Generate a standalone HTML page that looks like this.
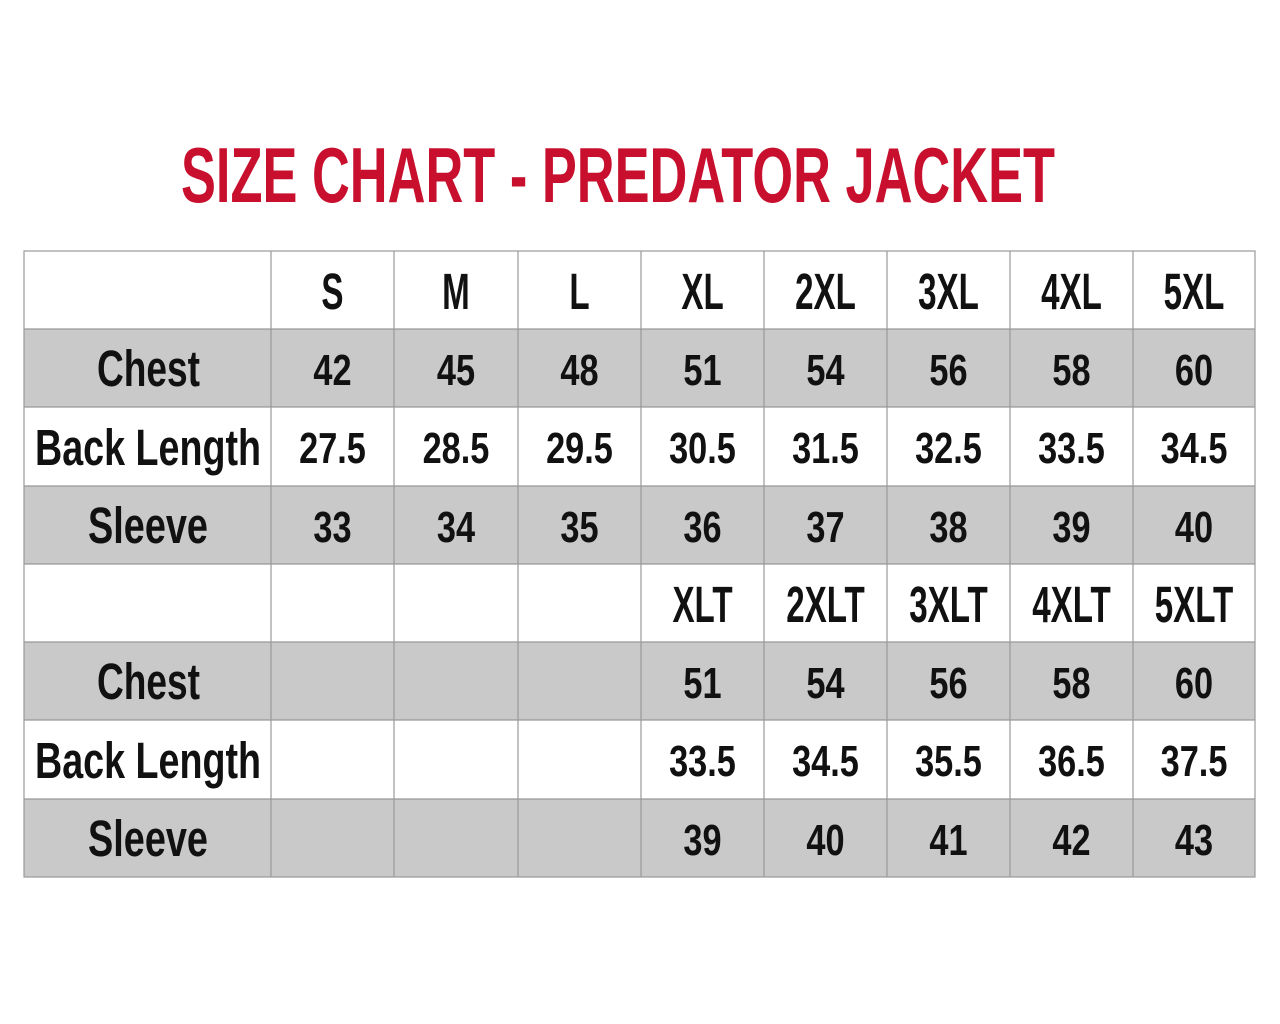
<!DOCTYPE html>
<html><head><style>body{margin:0;background:#fff}svg{display:block}</style></head><body>
<svg width="1280" height="1024" xmlns="http://www.w3.org/2000/svg" font-family="'Liberation Sans',sans-serif" font-weight="bold">
<rect width="1280" height="1024" fill="#fff"/>
<text x="181" y="202" font-size="78" fill="#c8102e" textLength="874" lengthAdjust="spacingAndGlyphs">SIZE CHART - PREDATOR JACKET</text>
<g fill="#c9c9c9">
<rect x="24" y="329" width="1231" height="78"/>
<rect x="24" y="486" width="1231" height="78"/>
<rect x="24" y="642" width="1231" height="78"/>
<rect x="24" y="799" width="1231" height="78"/>
</g>
<g stroke="#999" stroke-width="1.2" fill="none">
<rect x="24" y="251" width="1231" height="626"/>
<line x1="24" y1="329" x2="1255" y2="329"/><line x1="24" y1="407" x2="1255" y2="407"/>
<line x1="24" y1="486" x2="1255" y2="486"/><line x1="24" y1="564" x2="1255" y2="564"/>
<line x1="24" y1="642" x2="1255" y2="642"/><line x1="24" y1="720" x2="1255" y2="720"/>
<line x1="24" y1="799" x2="1255" y2="799"/>
<line x1="271" y1="251" x2="271" y2="877"/><line x1="394" y1="251" x2="394" y2="877"/>
<line x1="518" y1="251" x2="518" y2="877"/><line x1="641" y1="251" x2="641" y2="877"/>
<line x1="764" y1="251" x2="764" y2="877"/><line x1="887" y1="251" x2="887" y2="877"/>
<line x1="1010" y1="251" x2="1010" y2="877"/><line x1="1133" y1="251" x2="1133" y2="877"/>
</g>
<g fill="#111" font-size="51">
<text x="97" y="386" textLength="103" lengthAdjust="spacingAndGlyphs">Chest</text>
<text x="35" y="465" textLength="226" lengthAdjust="spacingAndGlyphs">Back Length</text>
<text x="88" y="543" textLength="120" lengthAdjust="spacingAndGlyphs">Sleeve</text>
<text x="97" y="699" textLength="103" lengthAdjust="spacingAndGlyphs">Chest</text>
<text x="35" y="778" textLength="226" lengthAdjust="spacingAndGlyphs">Back Length</text>
<text x="88" y="856" textLength="120" lengthAdjust="spacingAndGlyphs">Sleeve</text>
</g>
<g fill="#111" font-size="51" text-anchor="middle" transform="scale(0.65,1)">
<text x="511.5" y="309">S</text><text x="701.5" y="309">M</text><text x="891.5" y="309">L</text>
<text x="1080.8" y="309">XL</text><text x="1270" y="309">2XL</text><text x="1459.2" y="309">3XL</text>
<text x="1648.5" y="309">4XL</text><text x="1836.9" y="309">5XL</text>
<text x="1080.8" y="622">XLT</text><text x="1270" y="622">2XLT</text><text x="1459.2" y="622">3XLT</text>
<text x="1648.5" y="622">4XLT</text><text x="1836.9" y="622">5XLT</text>
</g>
<g fill="#111" font-size="44" text-anchor="middle" transform="scale(0.78,1)">
<text x="426.3" y="385">42</text><text x="584.6" y="385">45</text><text x="742.9" y="385">48</text><text x="900.6" y="385">51</text><text x="1058.3" y="385">54</text><text x="1216" y="385">56</text><text x="1373.7" y="385">58</text><text x="1530.8" y="385">60</text>
<text x="426.3" y="463">27.5</text><text x="584.6" y="463">28.5</text><text x="742.9" y="463">29.5</text><text x="900.6" y="463">30.5</text><text x="1058.3" y="463">31.5</text><text x="1216" y="463">32.5</text><text x="1373.7" y="463">33.5</text><text x="1530.8" y="463">34.5</text>
<text x="426.3" y="542">33</text><text x="584.6" y="542">34</text><text x="742.9" y="542">35</text><text x="900.6" y="542">36</text><text x="1058.3" y="542">37</text><text x="1216" y="542">38</text><text x="1373.7" y="542">39</text><text x="1530.8" y="542">40</text>
<text x="900.6" y="698">51</text><text x="1058.3" y="698">54</text><text x="1216" y="698">56</text><text x="1373.7" y="698">58</text><text x="1530.8" y="698">60</text>
<text x="900.6" y="776">33.5</text><text x="1058.3" y="776">34.5</text><text x="1216" y="776">35.5</text><text x="1373.7" y="776">36.5</text><text x="1530.8" y="776">37.5</text>
<text x="900.6" y="855">39</text><text x="1058.3" y="855">40</text><text x="1216" y="855">41</text><text x="1373.7" y="855">42</text><text x="1530.8" y="855">43</text>
</g>
</svg>
</body></html>
